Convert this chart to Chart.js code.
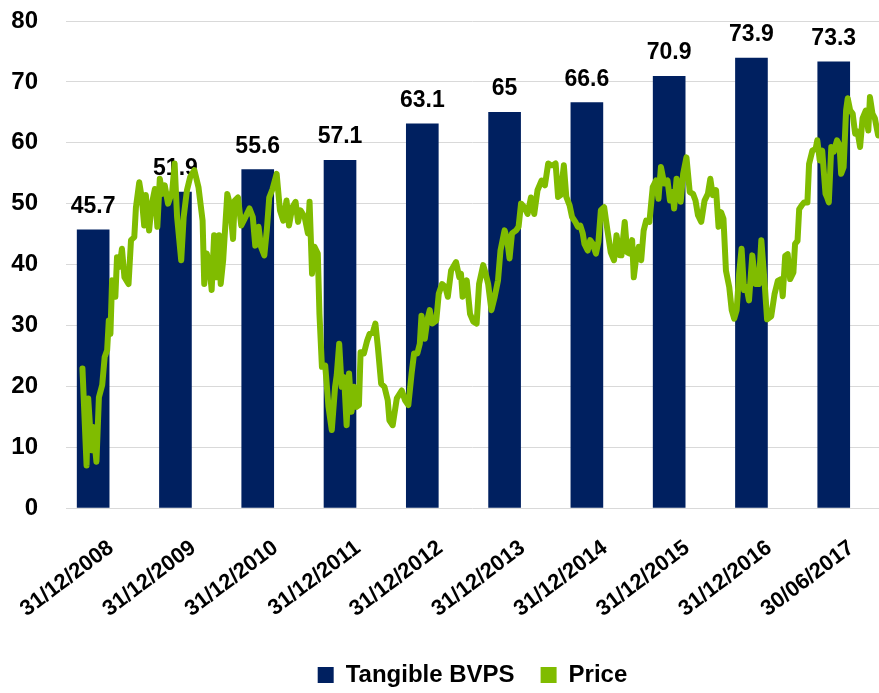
<!DOCTYPE html>
<html lang="en">
<head>
<meta charset="UTF-8">
<title>Tangible BVPS and Price</title>
<script src="https://cdn.jsdelivr.net/npm/chart.js"></script>
<style>
    html, body { margin: 0; padding: 0; background: #fff; }
    canvas { display: block; }
</style>
</head>
<body>
<canvas id="grafica" width="879" height="693"></canvas>

<script>
    // bars: tangible book value per share at each date
    const barLabels = ['31/12/2008', '31/12/2009', '31/12/2010', '31/12/2011', '31/12/2012',
                       '31/12/2013', '31/12/2014', '31/12/2015', '31/12/2016', '30/06/2017'];
    const bvps = [45.7, 51.9, 55.6, 57.1, 63.1, 65, 66.6, 70.9, 73.9, 73.3];
    const yTicks = [0, 10, 20, 30, 40, 50, 60, 70, 80];

    // price line: position in years after 31/12/2008 and price
    const priceYears = [
        -0.13, -0.08, -0.06, -0.02, 0.00, 0.04, 0.07, 0.11, 0.14, 0.17, 0.19, 0.21, 0.23, 0.27, 0.29, 0.32,
        0.35, 0.38, 0.43, 0.46, 0.50, 0.52, 0.56, 0.59, 0.62, 0.64, 0.68, 0.71, 0.75, 0.78, 0.81, 0.84,
        0.87, 0.91, 0.96, 0.99, 1.02, 1.07, 1.10, 1.14, 1.18, 1.23, 1.28, 1.33, 1.35, 1.38, 1.41, 1.44,
        1.47, 1.50, 1.53, 1.55, 1.58, 1.63, 1.66, 1.70, 1.72, 1.76, 1.80, 1.84, 1.90, 1.94, 1.97, 2.01,
        2.04, 2.08, 2.11, 2.14, 2.18, 2.23, 2.27, 2.31, 2.35, 2.38, 2.42, 2.46, 2.49, 2.52, 2.57, 2.61,
        2.63, 2.66, 2.69, 2.73, 2.75, 2.78, 2.82, 2.86, 2.90, 2.94, 2.96, 2.99, 3.02, 3.05, 3.08, 3.11,
        3.14, 3.17, 3.20, 3.23, 3.25, 3.29, 3.33, 3.36, 3.40, 3.43, 3.46, 3.50, 3.54, 3.58, 3.60, 3.64,
        3.69, 3.75, 3.79, 3.83, 3.87, 3.90, 3.94, 3.97, 3.99, 4.03, 4.06, 4.09, 4.12, 4.17, 4.20, 4.24,
        4.28, 4.31, 4.35, 4.41, 4.45, 4.47, 4.49, 4.54, 4.58, 4.62, 4.66, 4.69, 4.74, 4.77, 4.80, 4.84,
        4.88, 4.92, 4.95, 5.00, 5.03, 5.06, 5.09, 5.14, 5.17, 5.20, 5.24, 5.28, 5.32, 5.36, 5.40, 5.45,
        5.49, 5.53, 5.56, 5.59, 5.62, 5.65, 5.68, 5.72, 5.75, 5.79, 5.82, 5.86, 5.89, 5.92, 5.95, 5.97,
        6.01, 6.04, 6.07, 6.11, 6.14, 6.17, 6.21, 6.25, 6.29, 6.33, 6.36, 6.40, 6.42, 6.46, 6.49, 6.52,
        6.55, 6.57, 6.60, 6.63, 6.66, 6.69, 6.72, 6.76, 6.80, 6.84, 6.87, 6.90, 6.94, 6.98, 7.01, 7.04,
        7.06, 7.09, 7.12, 7.14, 7.17, 7.21, 7.25, 7.29, 7.32, 7.35, 7.39, 7.43, 7.47, 7.50, 7.53, 7.57,
        7.60, 7.63, 7.66, 7.69, 7.73, 7.76, 7.79, 7.82, 7.85, 7.88, 7.91, 7.94, 7.97, 8.01, 8.05, 8.09,
        8.12, 8.16, 8.19, 8.24, 8.28, 8.32, 8.36, 8.38, 8.41, 8.44, 8.47, 8.51, 8.53, 8.56, 8.58, 8.61,
        8.64, 8.68, 8.70, 8.74, 8.78, 8.80, 8.83, 8.86, 8.90, 8.92, 8.94, 8.97, 9.00, 9.04, 9.07, 9.09,
        9.12, 9.15, 9.17, 9.20, 9.23, 9.26, 9.29, 9.32, 9.35, 9.39, 9.42, 9.44, 9.47, 9.50, 9.54
    ];
    const price = [
        22.9, 7, 18, 9.5, 13.3, 7.6, 18.2, 20.2, 24.8, 25.9, 30.8, 28.6, 37.4, 34.7, 41.2, 39.6,
        42.6, 37.9, 36.8, 44, 44.5, 49.4, 53.5, 51, 46.4, 51.4, 45.6, 49.7, 52.4, 46.2, 54.1, 51.6,
        53, 50, 51.9, 56.6, 47.8, 40.7, 47.8, 52.2, 54.4, 55.5, 52.7, 47.2, 36.8, 41.8, 40.1, 35.8,
        44.8, 37.9, 44.8, 36.8, 40.7, 51.6, 50, 44.2, 50.5, 51, 46.4, 47.5, 49.2, 47.8, 43.1, 46.2,
        42.9, 41.5, 45.6, 51, 52.4, 54.9, 48.9, 47.2, 50.5, 46.4, 49.4, 50.3, 47, 48.9, 47.8, 45.1,
        50.3, 38.5, 42.9, 41.8, 31.9, 23.2, 23.4, 16.6, 12.8, 19.9, 21.8, 27, 19.9, 21.5, 13.6, 22.1,
        15.8, 19.9, 16.6, 16.9, 25.6, 25.4, 27.5, 28.6, 28.9, 30.3, 26.4, 20.4, 19.9, 17.7, 14.4, 13.6,
        18, 19.3, 17.7, 16.9, 22.1, 25.4, 25.4, 27, 31.6, 27.8, 30.8, 32.5, 30.3, 30.8, 35.2, 36.8,
        36.3, 34.7, 39, 40.4, 37.9, 38.5, 34.7, 37.4, 31.9, 30.6, 30.3, 36.8, 39.9, 38.5, 36.8, 32.5,
        34.7, 37.4, 42.3, 45.6, 44.2, 41, 45.1, 45.6, 46.2, 50, 49.4, 48.3, 51, 48.3, 52.2, 53.8,
        53, 56.6, 56.3, 56.3, 56.6, 51.1, 51.4, 56.3, 51.1, 49.7, 47.8, 47, 46.2, 46.4, 45.1, 43.4,
        42.3, 44, 43.4, 41.8, 43.7, 48.9, 49.4, 45.6, 42, 40.7, 44.8, 41.5, 41.5, 47, 42, 41.8,
        44, 37.9, 41.2, 42.9, 40.7, 45.6, 47.2, 47, 52.7, 53.8, 50.8, 56, 53.3, 53.8, 50.5, 51.9,
        49.2, 54.1, 52.7, 50.3, 54.9, 57.6, 51.9, 51.6, 50.5, 48.1, 47, 50.5, 51.6, 54.1, 51.4, 52.2,
        46.2, 48.6, 47.5, 39, 36.3, 32.5, 31.1, 32.5, 38.5, 42.6, 35.8, 36.3, 34.1, 41.5, 36.8, 36.8,
        44, 37, 31, 31.5, 35.1, 37.3, 37.6, 34.8, 41.4, 41.7, 37.6, 38.7, 43.4, 43.9, 49.1, 49.7,
        50.2, 50.2, 56.5, 58.7, 59, 60.4, 57.1, 58.7, 51.6, 51, 50.2, 59.3, 58.5, 60.4, 59.6, 54.9,
        56, 65.3, 67.3, 65.3, 64.8, 61.5, 61.8, 59.3, 64, 65.3, 62, 67.5, 64.8, 64, 61.2
    ];

    const fuente = 'Arial, "Liberation Sans", sans-serif';
    const navy = '#002060';
    const green = '#80BC00';
    const clear = 'rgba(0,0,0,0)';

    // value labels above the bars (drawn before the price line so it passes over them)
    const etiquetas = {
        id: 'etiquetas',
        afterDatasetDraw(chart, args) {
            if (args.index !== 0) return;
            const ctx = chart.ctx;
            ctx.save();
            ctx.font = 'bold 23px ' + fuente;
            ctx.fillStyle = '#000';
            ctx.textAlign = 'center';
            ctx.textBaseline = 'alphabetic';
            args.meta.data.forEach((bar, i) => {
                ctx.fillText(String(bvps[i]), bar.x, bar.y - 17);
            });
            ctx.restore();
        }
    };

    const ctx = document.getElementById('grafica').getContext('2d');
    const myChart = new Chart(ctx, {
        type: 'bar',
        data: {
            datasets: [{
                type: 'bar',
                label: 'Tangible BVPS',
                data: bvps.map((v, i) => ({ x: i, y: v })),
                backgroundColor: navy,
                barThickness: 32,
                order: 2
            }, {
                type: 'line',
                label: 'Price',
                data: priceYears.map((t, i) => ({ x: t, y: price[i] })),
                borderColor: green,
                backgroundColor: green,
                borderWidth: 6,
                pointRadius: 0,
                tension: 0,
                borderJoinStyle: 'round',
                borderCapStyle: 'round',
                order: 1
            }]
        },
        options: {
            responsive: false,
            animation: false,
            devicePixelRatio: 1,
            layout: { padding: { top: 21, right: 0, left: 0, bottom: -4 } },
            scales: {
                x: {
                    type: 'linear',
                    offset: false,
                    min: -0.33,
                    max: 9.55,
                    grid: { display: true, drawOnChartArea: false, drawTicks: true, tickLength: 24, tickColor: clear, offset: false },
                    border: { display: false },
                    afterBuildTicks: s => { s.ticks = barLabels.map((_, i) => ({ value: i })); },
                    afterFit: s => { s.height = 129; },
                    ticks: {
                        autoSkip: false,
                        maxRotation: 37,
                        minRotation: 37,
                        labelOffset: 18,
                        padding: 3,
                        color: '#000',
                        font: { family: fuente, size: 22, weight: 'bold' },
                        callback: v => barLabels[v]
                    }
                },
                y: {
                    min: 0,
                    max: 80,
                    afterBuildTicks: s => { s.ticks = yTicks.map(v => ({ value: v })); },
                    afterFit: s => { s.width = 66; },
                    grid: { color: '#d9d9d9', lineWidth: 1, drawTicks: true, tickLength: 25, tickColor: clear },
                    border: { display: false },
                    ticks: {
                        padding: 3,
                        color: '#000',
                        font: { family: fuente, size: 24, weight: 'bold' }
                    }
                }
            },
            plugins: {
                legend: {
                    position: 'bottom',
                    fullSize: false,
                    labels: {
                        boxWidth: 16,
                        boxHeight: 16,
                        padding: 26,
                        color: '#000',
                        font: { family: fuente, size: 24, weight: 'bold' },
                        sort: (a, b) => a.datasetIndex - b.datasetIndex,
                        generateLabels: chart =>
                            Chart.defaults.plugins.legend.labels.generateLabels(chart)
                                .map(l => Object.assign(l, { lineWidth: 0 }))
                    }
                },
                tooltip: { enabled: false }
            }
        },
        plugins: [etiquetas]
    });
</script>
</body>
</html>
